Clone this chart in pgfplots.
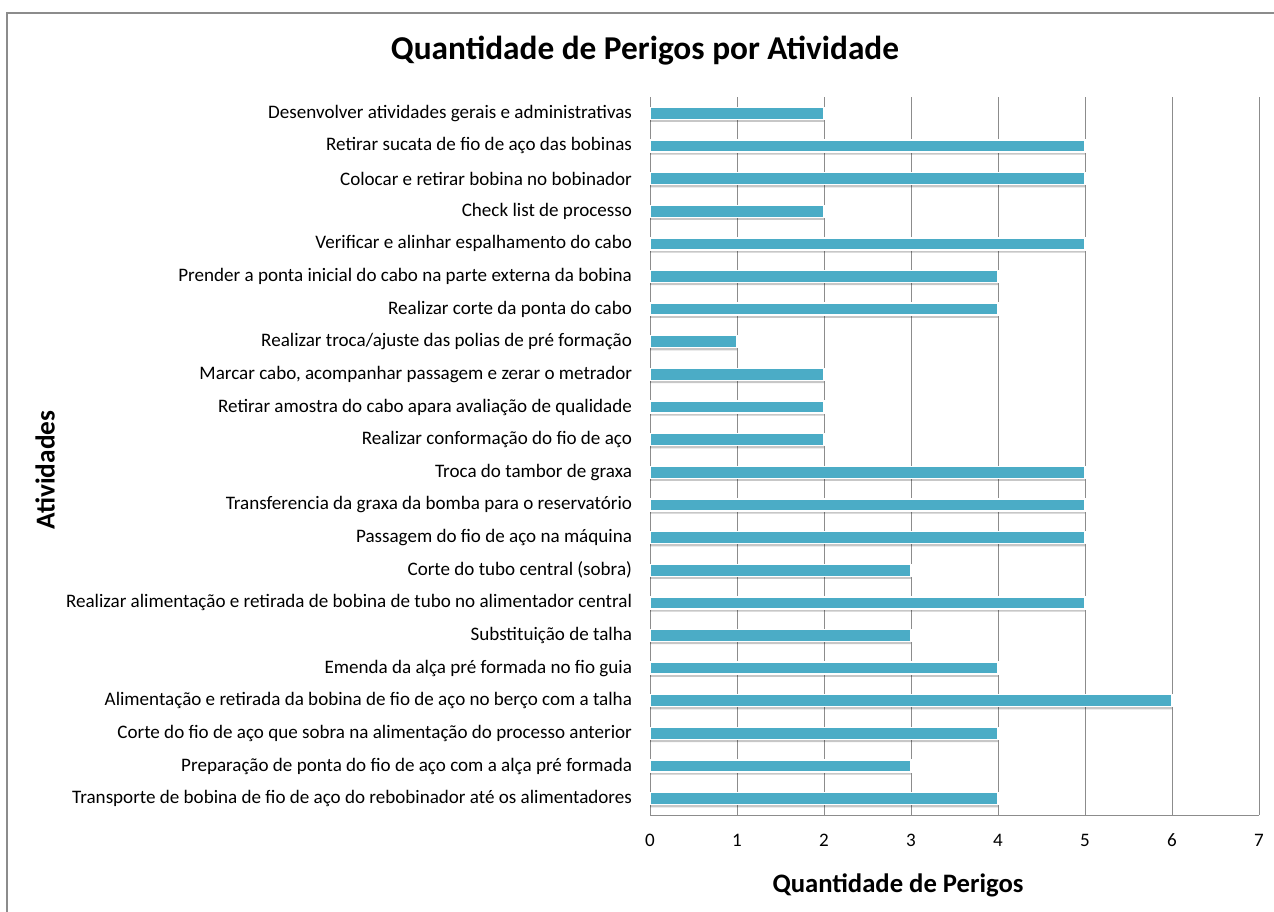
\documentclass[border=0pt]{standalone}
\usepackage{pgfplots}
\pgfplotsset{compat=1.18}
\usepackage{fontspec}
\setmainfont{Carlito}
\definecolor{barc}{HTML}{4BACC6}
\definecolor{gridc}{HTML}{8C8C8C}
\begin{document}
\begin{tikzpicture}
\path[use as bounding box] (0pt,0pt) rectangle (955.5pt,683.25pt);
\draw[gridc,line width=1.2pt] (5.25pt,-10pt) -- (5.25pt,673.5pt) -- (970pt,673.5pt);
\node[font=\bfseries\fontsize{25}{30}\selectfont] at (483.75pt,645pt) {Quantidade de Perigos por Atividade};
\node[font=\bfseries\fontsize{20}{24}\selectfont] at (673.5pt,19.5pt) {Quantidade de Perigos};
\node[font=\bfseries\fontsize{20.5}{24}\selectfont,rotate=90] at (33.75pt,330.75pt) {Atividades};
\begin{axis}[
  at={(487.5pt,72pt)}, anchor=south west,
  scale only axis, width=456.75pt, height=538.5pt,
  xbar, bar width=9pt,
  xmin=0, xmax=7, ymin=0.5, ymax=22.5,
  xtick={0,1,2,3,4,5,6,7},
  ytick={1,...,22},
  yticklabels={
    Transporte de bobina de fio de aço do rebobinador até os alimentadores,
    Preparação de ponta do fio de aço com a alça pré formada,
    Corte do fio de aço que sobra na alimentação do processo anterior,
    Alimentação e retirada da bobina de fio de aço no berço com a talha,
    Emenda da alça pré formada no fio guia,
    Substituição de talha,
    Realizar alimentação e retirada de bobina de tubo no alimentador central,
    Corte do tubo central (sobra),
    Passagem do fio de aço na máquina,
    Transferencia da graxa da bomba para o reservatório,
    Troca do tambor de graxa,
    Realizar conformação do fio de aço,
    Retirar amostra do cabo apara avaliação de qualidade,
    {Marcar cabo, acompanhar passagem e zerar o metrador},
    Realizar troca/ajuste das polias de pré formação,
    Realizar corte da ponta do cabo,
    Prender a ponta inicial do cabo na parte externa da bobina,
    Verificar e alinhar espalhamento do cabo,
    Check list de processo,
    Colocar e retirar bobina no bobinador,
    Retirar sucata de fio de aço das bobinas,
    Desenvolver atividades gerais e administrativas},
  /pgf/number format/assume math mode=true,
  tick label style={font=\fontsize{14.3}{17}\selectfont},
  yticklabel style={xshift=-10pt},
  xticklabel style={yshift=-13pt, text height=1.5ex, text depth=0.3ex},
  major tick length=0pt,
  xmajorgrids, grid style={gridc, line width=0.75pt},
  axis x line*=bottom, axis y line*=left,
  axis line style={gridc, line width=0.75pt, -},
  clip=false,
]
\addplot[fill=black, draw=none, opacity=0.22, bar shift=-2pt, forget plot]
  coordinates {
  (4,1) (3,2) (4,3) (6,4) (4,5) (3,6) (5,7) (3,8) (5,9) (5,10) (5,11)
  (2,12) (2,13) (2,14) (1,15) (4,16) (4,17) (5,18) (2,19) (5,20) (5,21) (2,22)};
\addplot[fill=barc, draw=white, line width=1pt]
  coordinates {
  (4,1) (3,2) (4,3) (6,4) (4,5) (3,6) (5,7) (3,8) (5,9) (5,10) (5,11)
  (2,12) (2,13) (2,14) (1,15) (4,16) (4,17) (5,18) (2,19) (5,20) (5,21) (2,22)};
\end{axis}
\end{tikzpicture}
\end{document}
